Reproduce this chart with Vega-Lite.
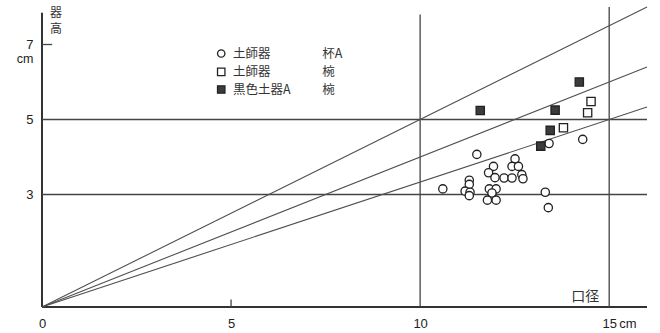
{
  "$schema": "https://vega.github.io/schema/vega-lite/v6.json",
  "width": 605,
  "height": 300,
  "autosize": {"type": "none"},
  "padding": {"left": 42, "top": 7, "right": 13, "bottom": 26},
  "background": "white",
  "config": {"view": {"stroke": null}, "font": "Liberation Sans"},
  "datasets": {
    "pts": [
      {"d": 14.30, "h": 4.47, "type": "土師器 杯A"},
      {"d": 13.41, "h": 4.36, "type": "土師器 杯A"},
      {"d": 11.50, "h": 4.07, "type": "土師器 杯A"},
      {"d": 12.51, "h": 3.95, "type": "土師器 杯A"},
      {"d": 12.43, "h": 3.75, "type": "土師器 杯A"},
      {"d": 12.60, "h": 3.75, "type": "土師器 杯A"},
      {"d": 11.94, "h": 3.75, "type": "土師器 杯A"},
      {"d": 11.81, "h": 3.58, "type": "土師器 杯A"},
      {"d": 11.98, "h": 3.45, "type": "土師器 杯A"},
      {"d": 12.22, "h": 3.44, "type": "土師器 杯A"},
      {"d": 12.43, "h": 3.44, "type": "土師器 杯A"},
      {"d": 12.69, "h": 3.53, "type": "土師器 杯A"},
      {"d": 12.72, "h": 3.42, "type": "土師器 杯A"},
      {"d": 10.60, "h": 3.15, "type": "土師器 杯A"},
      {"d": 11.30, "h": 3.38, "type": "土師器 杯A"},
      {"d": 11.30, "h": 3.27, "type": "土師器 杯A"},
      {"d": 11.19, "h": 3.09, "type": "土師器 杯A"},
      {"d": 11.32, "h": 3.06, "type": "土師器 杯A"},
      {"d": 11.30, "h": 2.97, "type": "土師器 杯A"},
      {"d": 11.83, "h": 3.15, "type": "土師器 杯A"},
      {"d": 12.01, "h": 3.15, "type": "土師器 杯A"},
      {"d": 11.90, "h": 3.04, "type": "土師器 杯A"},
      {"d": 11.78, "h": 2.85, "type": "土師器 杯A"},
      {"d": 12.01, "h": 2.85, "type": "土師器 杯A"},
      {"d": 13.31, "h": 3.06, "type": "土師器 杯A"},
      {"d": 13.39, "h": 2.65, "type": "土師器 杯A"},
      {"d": 14.52, "h": 5.48, "type": "土師器 椀"},
      {"d": 14.43, "h": 5.18, "type": "土師器 椀"},
      {"d": 13.79, "h": 4.78, "type": "土師器 椀"},
      {"d": 11.59, "h": 5.24, "type": "黒色土器A 椀"},
      {"d": 13.57, "h": 5.25, "type": "黒色土器A 椀"},
      {"d": 14.21, "h": 6.00, "type": "黒色土器A 椀"},
      {"d": 13.44, "h": 4.71, "type": "黒色土器A 椀"},
      {"d": 13.19, "h": 4.29, "type": "黒色土器A 椀"}
    ],
    "frame": [
      {"x0": 0, "y0": 0, "x1": 16, "y1": 0},
      {"x0": 0, "y0": 0, "x1": 0, "y1": 7.85}
    ],
    "guides": [
      {"x0": 10, "y0": 0, "x1": 10, "y1": 7.8},
      {"x0": 15, "y0": 0, "x1": 15, "y1": 8},
      {"x0": 0, "y0": 3, "x1": 16, "y1": 3},
      {"x0": 0, "y0": 5, "x1": 16, "y1": 5},
      {"x0": 5, "y0": 0, "x1": 5, "y1": 0.2},
      {"x0": 0, "y0": 7, "x1": 0.27, "y1": 7}
    ],
    "ratios": [
      {"x0": 0, "y0": 0, "x1": 16, "y1": 8},
      {"x0": 0, "y0": 0, "x1": 16, "y1": 6.4},
      {"x0": 0, "y0": 0, "x1": 16, "y1": 5.333}
    ],
    "legend": [
      {"type": "土師器 杯A", "sx": 4.74, "tx": 5.05, "ux": 7.41, "sy": 6.76, "name": "土師器", "form": "杯A"},
      {"type": "土師器 椀", "sx": 4.74, "tx": 5.05, "ux": 7.41, "sy": 6.27, "name": "土師器", "form": "椀"},
      {"type": "黒色土器A 椀", "sx": 4.74, "tx": 5.05, "ux": 7.41, "sy": 5.8, "name": "黒色土器A", "form": "椀"}
    ]
  },
  "layer": [
    {
      "data": {"name": "frame"},
      "mark": {"type": "rule", "stroke": "#333", "strokeWidth": 2},
      "encoding": {
        "x": {"field": "x0", "type": "quantitative", "scale": {"domain": [0, 16], "nice": false},
              "axis": {"values": [0, 5, 10, 15], "domain": false, "ticks": false, "grid": false, "title": null,
                       "labelPadding": 10, "labelFontSize": 13, "labelColor": "#222", "labelFlush": false, "labelFont": "Liberation Sans"}},
        "y": {"field": "y0", "type": "quantitative", "scale": {"domain": [0, 8], "nice": false},
              "axis": {"values": [3, 5, 7], "domain": false, "ticks": false, "grid": false, "title": null,
                       "labelPadding": 9, "labelFontSize": 13, "labelColor": "#222", "labelFont": "Liberation Sans"}},
        "x2": {"field": "x1"},
        "y2": {"field": "y1"}
      }
    },
    {
      "data": {"name": "guides"},
      "mark": {"type": "rule", "stroke": "#444", "strokeWidth": 1.3},
      "encoding": {
        "x": {"field": "x0", "type": "quantitative"},
        "y": {"field": "y0", "type": "quantitative"},
        "x2": {"field": "x1"},
        "y2": {"field": "y1"}
      }
    },
    {
      "data": {"name": "ratios"},
      "mark": {"type": "rule", "stroke": "#505050", "strokeWidth": 1.1},
      "encoding": {
        "x": {"field": "x0", "type": "quantitative"},
        "y": {"field": "y0", "type": "quantitative"},
        "x2": {"field": "x1"},
        "y2": {"field": "y1"}
      }
    },
    {
      "data": {"name": "pts"},
      "mark": {"type": "point", "filled": true, "stroke": "#222", "strokeWidth": 1.3, "size": 68, "opacity": 1},
      "encoding": {
        "x": {"field": "d", "type": "quantitative"},
        "y": {"field": "h", "type": "quantitative"},
        "shape": {"field": "type", "type": "nominal", "scale": {"domain": ["土師器 杯A", "土師器 椀", "黒色土器A 椀"], "range": ["circle", "square", "square"]}, "legend": null},
        "fill": {"field": "type", "type": "nominal", "scale": {"domain": ["土師器 杯A", "土師器 椀", "黒色土器A 椀"], "range": ["white", "white", "#3c3c3c"]}, "legend": null}
      }
    },
    {
      "data": {"name": "legend"},
      "mark": {"type": "point", "filled": true, "stroke": "#222", "strokeWidth": 1.3, "size": 55, "opacity": 1},
      "encoding": {
        "x": {"field": "sx", "type": "quantitative"},
        "y": {"field": "sy", "type": "quantitative"},
        "shape": {"field": "type", "type": "nominal", "legend": null},
        "fill": {"field": "type", "type": "nominal", "legend": null}
      }
    },
    {
      "data": {"name": "legend"},
      "mark": {"type": "text", "align": "left", "baseline": "middle", "font": "Noto Sans CJK JP", "fontSize": 12.5, "fill": "#333"},
      "encoding": {
        "x": {"field": "tx", "type": "quantitative"},
        "y": {"field": "sy", "type": "quantitative"},
        "text": {"field": "name"}
      }
    },
    {
      "data": {"name": "legend"},
      "mark": {"type": "text", "align": "left", "baseline": "middle", "font": "Noto Sans CJK JP", "fontSize": 12.5, "fill": "#333"},
      "encoding": {
        "x": {"field": "ux", "type": "quantitative"},
        "y": {"field": "sy", "type": "quantitative"},
        "text": {"field": "form"}
      }
    },
    {
      "data": {"values": [{"x": 0, "y": 8, "t": "器\n高"}]},
      "mark": {"type": "text", "align": "center", "baseline": "top", "lineBreak": "\n", "lineHeight": 16, "dx": 14, "dy": 1, "font": "Noto Sans CJK JP", "fontSize": 12, "fill": "#333"},
      "encoding": {
        "x": {"field": "x", "type": "quantitative"},
        "y": {"field": "y", "type": "quantitative"},
        "text": {"field": "t"}
      }
    },
    {
      "data": {"values": [{"x": 14.37, "y": 0.28, "t": "口径"}]},
      "mark": {"type": "text", "align": "center", "baseline": "middle", "font": "Noto Sans CJK JP", "fontSize": 14, "fill": "#333"},
      "encoding": {
        "x": {"field": "x", "type": "quantitative"},
        "y": {"field": "y", "type": "quantitative"},
        "text": {"field": "t"}
      }
    },
    {
      "data": {"values": [{"x": 15, "y": 0, "t": "cm"}]},
      "mark": {"type": "text", "align": "left", "baseline": "middle", "dx": 10, "dy": 17, "font": "Liberation Sans", "fontSize": 13, "fill": "#222"},
      "encoding": {
        "x": {"field": "x", "type": "quantitative"},
        "y": {"field": "y", "type": "quantitative"},
        "text": {"field": "t"}
      }
    },
    {
      "data": {"values": [{"x": 0, "y": 7, "t": "cm"}]},
      "mark": {"type": "text", "align": "center", "baseline": "middle", "dx": -17, "dy": 14, "font": "Liberation Sans", "fontSize": 12.5, "fill": "#222"},
      "encoding": {
        "x": {"field": "x", "type": "quantitative"},
        "y": {"field": "y", "type": "quantitative"},
        "text": {"field": "t"}
      }
    }
  ]
}
